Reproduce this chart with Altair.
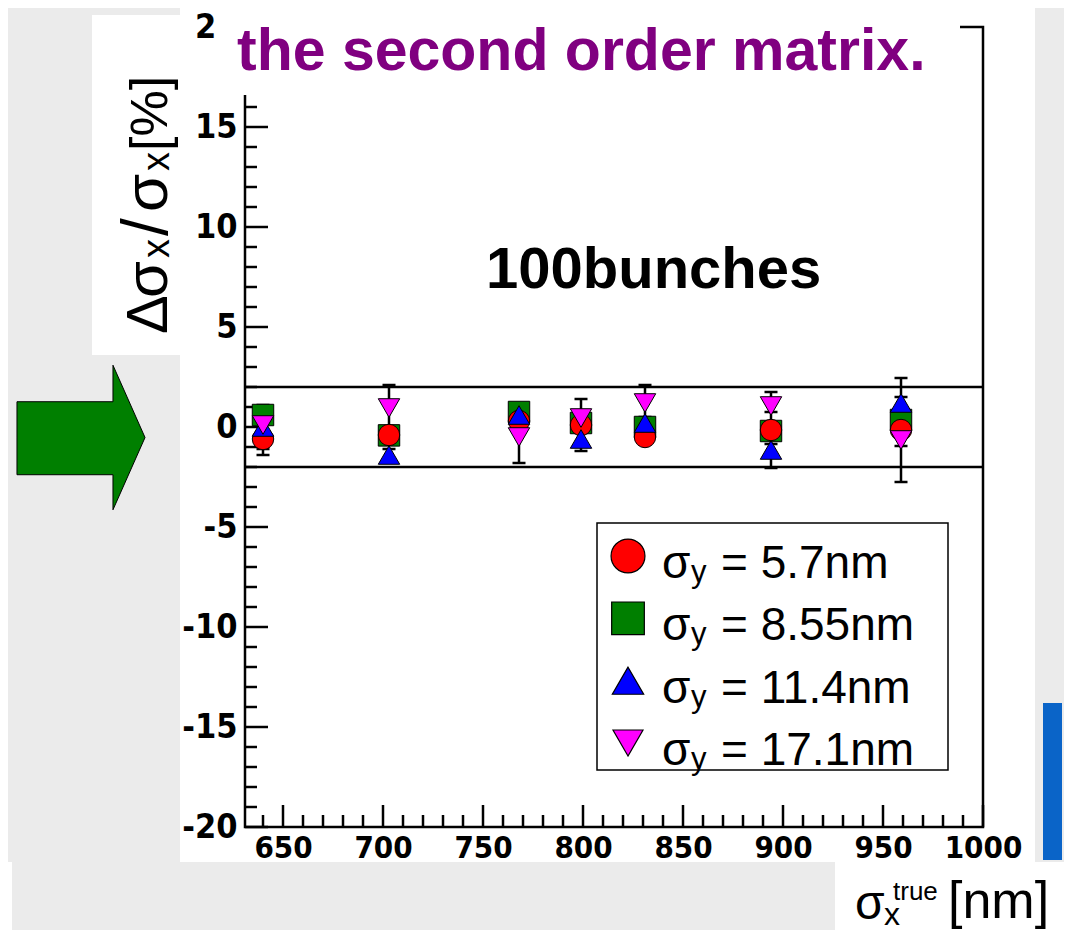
import altair as alt
import pandas as pd

# ---------------- data ----------------
sigma_x_true = [640, 703, 768, 799, 831, 894, 959]

series_labels = ["σy = 5.7nm", "σy = 8.55nm", "σy = 11.4nm", "σy = 17.1nm"]
series_values = ["= 5.7nm", "= 8.55nm", "= 11.4nm", "= 17.1nm"]
series_colors = ["#ff0000", "#007f00", "#0000ff", "#ff00ff"]
series_shapes = ["circle", "square", "triangle-up", "triangle-down"]

dev_5p7 = [-0.6, -0.4, 0.3, 0.1, -0.5, -0.15, -0.15]
err_5p7 = [0.8, 0.3, 0.3, 1.3, 0.3, 1.9, 2.6]
dev_8p55 = [0.6, -0.42, 0.75, 0.2, 0.0, -0.2, 0.35]
err_8p55 = [0.3, 0.3, 0.3, 0.3, 0.3, 0.3, 0.3]
dev_11p4 = [0.0, -1.4, 0.6, -0.6, 0.2, -1.15, 1.2]
err_11p4 = [1.1, 0.3, 0.3, 0.3, 0.3, 0.3, 0.3]
dev_17p1 = [0.1, 0.95, -0.5, 0.45, 1.2, 1.05, -0.65]
err_17p1 = [0.3, 1.15, 1.3, 0.3, 0.9, 0.3, 0.3]

band_limits = [2, -2]
x_tick_labels = [650, 700, 750, 800, 850, 900, 950, 1000]
y_tick_labels = [-20, -15, -10, -5, 0, 5, 10, 15, 20]
x_minor = [v for v in range(640, 1000, 10) if v % 50 != 0]
y_minor = [v for v in range(-20, 21) if v % 5 != 0]

# drawing order (green first, magenta last)
draw_order = [(1, dev_8p55, err_8p55), (0, dev_5p7, err_5p7),
              (2, dev_11p4, err_11p4), (3, dev_17p1, err_17p1)]
rows = []
for idx, devs, errs in draw_order:
    for sx, d, e in zip(sigma_x_true, devs, errs):
        rows.append({"series": series_labels[idx], "sx": sx, "dev": d,
                     "lo": d - e, "hi": d + e})
df = pd.DataFrame(rows)

# ---------------- layout helpers ----------------
PX0, PY0 = 245, 27
W, H = 738, 800


def vx(px):
    return px - PX0


def vy(py):
    return py - PY0


one = alt.Data(values=[{"a": 1}])
FONT = "Liberation Sans"
TICKFONT = "Liberation Sans Narrow, DejaVu Sans Condensed, Liberation Sans"


def rect(x1, y1, x2, y2, **kw):
    return alt.Chart(one).mark_rect(**kw).encode(
        x=alt.value(vx(x1)), x2=alt.value(vx(x2)),
        y=alt.value(vy(y1)), y2=alt.value(vy(y2)))


def text(s, px, py, size, **kw):
    return alt.Chart(one).mark_text(
        text=s, fontSize=size, align="left", baseline="alphabetic",
        font=FONT, color=kw.pop("color", "black"), **kw).encode(
        x=alt.value(vx(px)), y=alt.value(vy(py)))


# ---------------- scales / axes ----------------
x_scale = alt.Scale(domain=[631, 1000], nice=False, zero=False)
y_scale = alt.Scale(domain=[-20, 20], nice=False, zero=False)
color_scale = alt.Scale(domain=series_labels, range=series_colors)
shape_scale = alt.Scale(domain=series_labels, range=series_shapes)

x_axis = alt.Axis(values=x_tick_labels, ticks=False, domain=False, grid=False,
                  labelFont=TICKFONT, labelFontSize=31, labelFontWeight="bold",
                  labelColor="black", labelPadding=6, labelFlush=False,
                  labelExpr="toString(datum.value)", title=None)
y_axis = alt.Axis(values=y_tick_labels, ticks=False, domain=False, grid=False,
                  labelFont=TICKFONT, labelFontSize=34, labelFontWeight="bold",
                  labelColor="black", labelPadding=8, labelFlush=False,
                  labelExpr="toString(datum.value)", title=None)


def X(f):
    return alt.X(f, type="quantitative", scale=x_scale, axis=x_axis)


def Y(f):
    return alt.Y(f, type="quantitative", scale=y_scale, axis=y_axis)


# ---------------- background decorations ----------------
GRAY = "#ebebeb"
back = [
    rect(8, 8, 180, 862, color=GRAY),
    rect(1035, 8, 1064, 862, color=GRAY),
    rect(12, 862, 835, 930, color=GRAY),
    rect(92, 15, 180, 355, color="white"),
    rect(1043, 703, 1062, 860, color="#0a64c8"),
    alt.Chart(one).mark_point(
        shape="M-0.877,-0.49 L0.438,-0.49 L0.438,-0.99 L0.877,0 L0.438,0.99 L0.438,0.51 L-0.877,0.51 Z",
        filled=True, fill="#007f00", stroke="black", strokeWidth=1,
        size=21316, opacity=1).encode(x=alt.value(vx(81)), y=alt.value(vy(437.5))),
]

# y-axis title (rotated)
for s, bx, by, sz in [("Δ", 167, 334, 58), ("σ", 167, 298, 60), ("x", 169, 258, 38),
                      ("/", 167, 236, 64), ("σ", 167, 212, 62), ("x", 169, 171, 38),
                      ("[%]", 167, 151, 52)]:
    back.append(text(s, bx, by, sz, angle=270))

# x-axis title
back += [
    text("σ", 855, 919, 48),
    text("x", 884, 925, 32),
    text("true", 893, 900, 26),
    text("[nm]", 948, 918, 52),
]

# ---------------- main plot ----------------
y_major = alt.Chart(pd.DataFrame({"v": y_tick_labels})).mark_rule(
    color="black", strokeWidth=2.5).encode(y=Y("v"), x=alt.value(0), x2=alt.value(23))
y_minor_l = alt.Chart(pd.DataFrame({"v": y_minor})).mark_rule(
    color="black", strokeWidth=2.5).encode(y=Y("v"), x=alt.value(0), x2=alt.value(12))
x_major = alt.Chart(pd.DataFrame({"v": x_tick_labels})).mark_rule(
    color="black", strokeWidth=2.5).encode(x=X("v"), y=alt.value(H), y2=alt.value(H - 22))
x_minor_l = alt.Chart(pd.DataFrame({"v": x_minor})).mark_rule(
    color="black", strokeWidth=2.5).encode(x=X("v"), y=alt.value(H), y2=alt.value(H - 12))

hlines = alt.Chart(pd.DataFrame({"v": band_limits})).mark_rule(
    color="black", strokeWidth=2.5).encode(y=Y("v"))

base = alt.Chart(df)
err_bars = base.mark_rule(color="black", strokeWidth=2.5).encode(
    x=X("sx"), y=Y("lo"), y2="hi")
cap_lo = base.mark_rule(color="black", strokeWidth=2.5, xOffset=-6.5, x2Offset=6.5).encode(
    x=X("sx"), x2="sx", y=Y("lo"))
cap_hi = base.mark_rule(color="black", strokeWidth=2.5, xOffset=-6.5, x2Offset=6.5).encode(
    x=X("sx"), x2="sx", y=Y("hi"))
points = base.mark_point(filled=True, size=460, stroke="black", strokeWidth=1,
                         opacity=1).encode(
    x=X("sx"), y=Y("dev"),
    color=alt.Color("series:N", scale=color_scale, legend=None),
    shape=alt.Shape("series:N", scale=shape_scale, legend=None))

main = alt.layer(y_major, y_minor_l, x_major, x_minor_l, hlines,
                 err_bars, cap_lo, cap_hi, points)

# ---------------- legend ----------------
leg_df = pd.DataFrame({"series": series_labels, "row": [0, 1, 2, 3],
                       "val": series_values})
leg_y = alt.Y("row:Q", scale=alt.Scale(domain=[0, 3], range=[vy(578), vy(765)]),
              axis=None)
leg_base = alt.Chart(leg_df)
leg_sym = leg_base.mark_point(filled=True, stroke="black", strokeWidth=1.2,
                              opacity=1, yOffset=-22).encode(
    x=alt.value(vx(628)), y=leg_y,
    color=alt.Color("series:N", scale=color_scale, legend=None),
    shape=alt.Shape("series:N", scale=shape_scale, legend=None),
    size=alt.Size("series:N", scale=alt.Scale(domain=series_labels,
                                              range=[1150, 900, 1000, 1000]),
                  legend=None))
leg_sigma = leg_base.mark_text(text="σ", fontSize=46, align="left",
                               baseline="alphabetic", font=FONT, color="black").encode(
    x=alt.value(vx(662)), y=leg_y)
leg_sub = leg_base.mark_text(text="y", fontSize=31, align="left",
                             baseline="alphabetic", font=FONT, color="black", dy=4).encode(
    x=alt.value(vx(691)), y=leg_y)
leg_txt = leg_base.mark_text(fontSize=46, align="left", baseline="alphabetic",
                             font=FONT, color="black").encode(
    x=alt.value(vx(721)), y=leg_y, text="val:N")
legend = alt.layer(leg_sym, leg_sigma, leg_sub, leg_txt)
legend_box = rect(597, 523, 948, 770, fill="white", stroke="black", strokeWidth=1.5)

# ---------------- front decorations ----------------
front = [
    rect(217, 8, 960, 95, color="white"),
    text("the second order matrix.", 237, 70, 59, fontWeight="bold", color="#800080"),
    text("100bunches", 486, 288, 58, fontWeight="bold"),
]

chart = alt.layer(*back, main, legend_box, legend, *front).resolve_scale(
    y="independent"
).properties(
    width=W, height=H,
    padding={"left": 237, "top": 19, "right": 81, "bottom": 103},
    autosize=alt.AutoSizeParams(type="none"),
    background="white",
).configure_view(stroke="black", strokeWidth=2.5)

chart.save("out.html", embed_options={"renderer": "svg", "actions": False})
